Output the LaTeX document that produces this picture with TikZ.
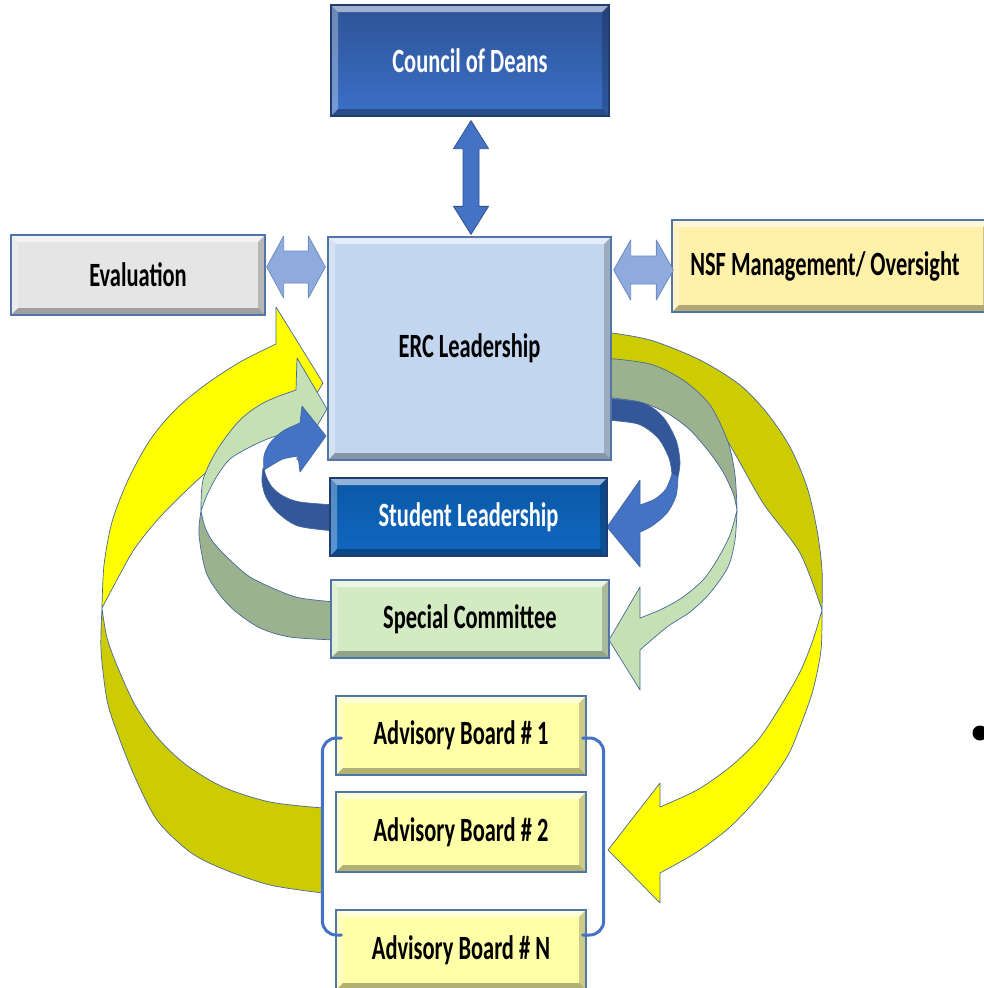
\documentclass[tikz,border=0pt]{standalone}
\usepackage{fontspec}
\setmainfont{Carlito}[FakeStretch=0.66]
\usetikzlibrary{calc}
\definecolor{ybright}{HTML}{FFFF00}
\definecolor{ydark}{HTML}{CCCC00}
\definecolor{glight}{HTML}{C5E0B4}
\definecolor{gdark}{HTML}{9CB28F}
\definecolor{blight}{HTML}{4472C4}
\definecolor{bdark}{HTML}{34579A}
\definecolor{ribline}{HTML}{46699A}
\definecolor{codtop}{HTML}{2D5395}
\definecolor{codbot}{HTML}{3B70C8}
\definecolor{ercc}{HTML}{C3D6F0}
\definecolor{evlc}{HTML}{E5E5E5}
\definecolor{nsfc}{HTML}{FFF0AA}
\definecolor{stutop}{HTML}{0A57A6}
\definecolor{stubot}{HTML}{1168C0}
\definecolor{spcc}{HTML}{D4EAC3}
\definecolor{abc}{HTML}{FFFFA8}
\definecolor{lightborder}{HTML}{5075A8}
\definecolor{darkborder}{HTML}{1F3B70}
\definecolor{hdblc}{HTML}{8FAADC}
\definecolor{hdblline}{HTML}{6E8DC5}
\definecolor{vdblline}{HTML}{2F528F}

\newcommand\dblarrow[6]{%
  \draw[#1] (#2) -- ($(#2)!#4!(#3)!#5!90:(#3)$) -- ($(#2)!#4!(#3)!#6!90:(#3)$)
    -- ($(#3)!#4!(#2)!#6!-90:(#2)$) -- ($(#3)!#4!(#2)!#5!-90:(#2)$) -- (#3)
    -- ($(#3)!#4!(#2)!#5!90:(#2)$) -- ($(#3)!#4!(#2)!#6!90:(#2)$)
    -- ($(#2)!#4!(#3)!#6!-90:(#3)$) -- ($(#2)!#4!(#3)!#5!-90:(#3)$) -- cycle;}

\begin{document}
\begin{tikzpicture}[x=1pt,y=-1pt,
  rib/.style={draw=ribline,line width=0.7pt,line join=round},
  bevel/.style={path picture={
    \fill[white,opacity=0.55] (path picture bounding box.north west) -- (path picture bounding box.north east)
      -- ([shift={(-7pt,-7pt)}]path picture bounding box.north east) -- ([shift={(7pt,-7pt)}]path picture bounding box.north west) -- cycle;
    \fill[white,opacity=0.3] (path picture bounding box.north west) -- (path picture bounding box.south west)
      -- ([shift={(7pt,7pt)}]path picture bounding box.south west) -- ([shift={(7pt,-7pt)}]path picture bounding box.north west) -- cycle;
    \fill[black,opacity=0.3] (path picture bounding box.south west) -- (path picture bounding box.south east)
      -- ([shift={(-7pt,7pt)}]path picture bounding box.south east) -- ([shift={(7pt,7pt)}]path picture bounding box.south west) -- cycle;
    \fill[black,opacity=0.2] (path picture bounding box.north east) -- (path picture bounding box.south east)
      -- ([shift={(-7pt,7pt)}]path picture bounding box.south east) -- ([shift={(-7pt,-7pt)}]path picture bounding box.north east) -- cycle;
  }},
  box/.style={rectangle,draw=lightborder,line width=1.3pt,inner sep=0pt,bevel,
    font=\fontsize{34}{40}\selectfont\bfseries,text=black},
  darkbox/.style={box,draw=darkborder,text=white},
  lbl/.style={inner sep=0pt,font=\fontsize{34}{40}\selectfont\bfseries,text=black},
  vdbl/.style={fill=blight,draw=vdblline,line width=0.8pt,line join=round},
  hdbl/.style={fill=hdblc,draw=hdblline,line width=0.8pt,line join=round},
  bracket/.style={draw=blight,line width=3pt,rounded corners=14pt,line cap=round}
]
\useasboundingbox (0,0) rectangle (984,988);
\fill[white] (0,0) rectangle (984,988);

% ---- yellow loop ----
\filldraw[rib,fill=ydark] plot[smooth] coordinates {(323,808) (270,802) (223,787) (185,764) (157,737) (135,705) (118,668) (107,638) (102,608)}
  -- plot[smooth] coordinates {(102,608) (101,650) (107,700) (117,732) (134,775) (157,820) (190,852) (223,869) (270,885) (323,893)} -- cycle;
\filldraw[rib,fill=ybright] plot[smooth] coordinates {(102,608) (104,565) (112,522) (128,480) (150,440) (175,410) (205,385) (240,362) (276,344)}
  -- (276,307) -- (323,383) -- (276,460)
  -- plot[smooth] coordinates {(276,425) (245,443) (215,465) (190,487) (160,517) (135,548) (118,578) (102,608)} -- cycle;
\filldraw[rib,fill=ydark] plot[smooth] coordinates {(605,332) (650,340) (700,360) (740,385) (767,413) (790,447) (807,487) (817,530) (822,570) (822,610)}
  -- plot[smooth] coordinates {(822,610) (800,553) (763,503) (728,442) (700,405) (660,378) (605,365)} -- cycle;
\filldraw[rib,fill=ybright] plot[smooth] coordinates {(822,610) (821,650) (813,690) (800,727) (787,757) (760,795) (730,827) (697,852) (660,873)}
  -- (660,903) -- (608,850) -- (660,783)
  -- plot[smooth] coordinates {(660,807) (697,790) (730,767) (758,740) (780,707) (800,672) (813,640) (822,610)} -- cycle;

% ---- green loop ----
\filldraw[rib,fill=gdark] plot[smooth] coordinates {(335,602) (300,598) (277,590) (250,577) (230,560) (213,542) (205,527) (201,511)}
  -- plot[smooth] coordinates {(201,511) (199,535) (206,572) (220,595) (235,611) (260,628) (290,637) (335,640)} -- cycle;
\filldraw[rib,fill=glight] plot[smooth] coordinates {(201,511) (203,480) (217,450) (240,420) (265,402) (296,390)}
  -- (297,358) -- (327,409) -- (297,460)
  -- plot[smooth] coordinates {(296,430) (270,438) (250,447) (230,459) (217,476) (207,495) (201,511)} -- cycle;
\filldraw[rib,fill=gdark] plot[smooth] coordinates {(605,358) (650,364) (683,380) (710,405) (728,442) (735,475) (737,510)}
  -- plot[smooth] coordinates {(737,510) (733,493) (723,472) (710,453) (690,430) (667,413) (640,402) (605,397)} -- cycle;
\filldraw[rib,fill=glight] plot[smooth] coordinates {(737,510) (735,540) (728,567) (710,593) (690,612) (667,627) (640,650)}
  -- (640,690) -- (609,640) -- (640,587)
  -- plot[smooth] coordinates {(640,618) (662,609) (683,597) (703,580) (717,560) (730,535) (737,510)} -- cycle;

% ---- blue loop ----
\filldraw[rib,fill=bdark] plot[smooth] coordinates {(335,505) (300,502) (283,496) (272,487) (266,476) (264,468)}
  -- plot[smooth] coordinates {(263,468) (262,482) (266,497) (277,512) (298,526) (335,531)} -- cycle;
\filldraw[rib,fill=blight] plot[smooth] coordinates {(264,470) (264,456) (270,443) (283,431) (300,423)}
  -- (302,406) -- (326,436) -- (300,472)
  -- plot[smooth] coordinates {(298,456) (283,459) (272,465) (264,470)} -- cycle;
\filldraw[rib,fill=bdark] plot[smooth] coordinates {(605,398) (643,403) (663,417) (676,440) (680,462) (678,477)}
  -- plot[smooth] coordinates {(672,474) (669,458) (658,438) (638,424) (605,420)} -- cycle;
\filldraw[rib,fill=blight] plot[smooth] coordinates {(678,477) (676,496) (667,513) (652,526) (640,532)}
  -- (640,567) -- (607,527) -- (640,480)
  -- plot[smooth] coordinates {(640,505) (655,499) (666,489) (672,474)} -- cycle;

% ---- boxes ----
\node[darkbox,top color=codtop,bottom color=codbot,minimum width=278pt,minimum height=111pt] (cod) at (470,60.5) {Council of Deans};
\node[box,fill=ercc,minimum width=283pt,minimum height=223pt] (erc) at (469.5,348.5) {ERC Leadership};
\node[box,fill=evlc,minimum width=254pt,minimum height=80pt] (evl) at (138,275) {Evaluation};
\node[box,fill=nsfc,minimum width=318pt,minimum height=92pt] (nsf) at (831,266) {};
\node[lbl] (nsft) at ($(nsf.center)+(-6,0)$) {NSF Management/ Oversight};
\node[darkbox,top color=stutop,bottom color=stubot,minimum width=277pt,minimum height=78pt] (stu) at (468.5,517) {Student Leadership};
\node[box,fill=spcc,minimum width=278pt,minimum height=78pt] (spc) at (470,619) {Special Committee};
\node[box,fill=abc,minimum width=250pt,minimum height=79pt] (ab1) at (461,735.5) {Advisory Board \# 1};
\node[box,fill=abc,minimum width=250pt,minimum height=80pt] (ab2) at (461,832) {Advisory Board \# 2};
\node[box,fill=abc,minimum width=250pt,minimum height=80pt] (abn) at (461,950) {Advisory Board \# N};

% ---- brackets ----
\draw[bracket] ($(ab1.west)+(6,2.5)$) -- ($(ab1.west)+(-13,2.5)$) -- ($(abn.west)+(-13,-15)$) -- ($(abn.west)+(6,-15)$);
\draw[bracket] ($(ab1.east)+(-4,2.5)$) -- ($(ab1.east)+(17,2.5)$) -- ($(abn.east)+(17,-15)$) -- ($(abn.east)+(-4,-15)$);

% ---- double arrows ----
\coordinate (v1) at ($(cod.south)+(1,4)$);
\coordinate (v2) at ($(v1 |- erc.north)+(0,-2)$);
\dblarrow{vdbl}{v1}{v2}{28pt}{17.5pt}{8pt}
\coordinate (h1) at ($(evl.east)+(1,-8)$);
\coordinate (h2) at ($(h1 -| erc.west)+(-2,0)$);
\dblarrow{hdbl}{h1}{h2}{17pt}{31pt}{16pt}
\coordinate (h3) at ($(erc.east |- nsf.west)+(2,4)$);
\coordinate (h4) at ($(h3 -| nsf.west)+(2,0)$);
\dblarrow{hdbl}{h3}{h4}{17pt}{30pt}{14pt}

% ---- bullet ----
\fill[black] (980,733) circle (7.5);
\end{tikzpicture}
\end{document}
